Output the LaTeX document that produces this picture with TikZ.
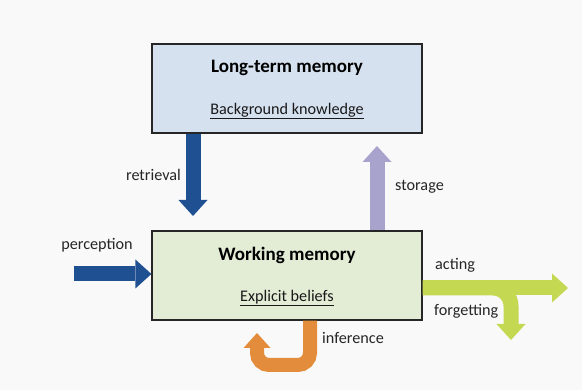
\documentclass[tikz,border=0pt]{standalone}
\usepackage{fontspec}
\setmainfont{Carlito}
\usetikzlibrary{arrows.meta}
\definecolor{bgc}{RGB}{249,249,249}
\definecolor{ltmfill}{RGB}{214,225,239}
\definecolor{wmfill}{RGB}{227,237,214}
\definecolor{dblue}{RGB}{31,80,145}
\definecolor{lav}{RGB}{168,163,204}
\definecolor{ygreen}{RGB}{197,216,82}
\definecolor{orng}{RGB}{226,140,60}
\tikzset{
  membox/.style={draw=black!85, line width=1.2pt, minimum width=270pt, minimum height=89pt, inner sep=0pt},
  boxtitle/.style={font=\fontsize{19}{21}\selectfont\bfseries, text=black, inner sep=0pt},
  boxsub/.style={font=\fontsize{16.2}{19}\selectfont, text=black!90, inner sep=0pt},
  lbl/.style={font=\fontsize{16.2}{19}\selectfont, text=black!85, inner sep=0pt},
  fatarrow/.style={line width=15pt, -{Triangle[width=29pt,length=16pt,line width=0pt]}}
}
\begin{document}
\begin{tikzpicture}[x=1pt,y=-1pt]
\path[fill=bgc,use as bounding box] (0,0) rectangle (582,390);

% boxes
\node[membox, fill=ltmfill] (ltm) at (287,88.5) {};
\node[membox, fill=wmfill] (wm) at (287,275.5) {};
\node[boxtitle] (ltmt) at (287,68) {Long-term memory};
\node[boxsub] (ltms) at (287,111) {\underline{Background knowledge}};
\node[boxtitle] (wmt) at (287,255) {Working memory};
\node[boxsub] (wms) at (287,298) {\underline{Explicit beliefs}};

% coordinates
\coordinate (rtip) at (193,216);
\coordinate (stip) at (377,146);
\coordinate (pstart) at (74,274);
\coordinate (atip) at (568,288);
\coordinate (fbend) at (511,288);
\coordinate (ftip) at (511,340);
\coordinate (ia) at (310,365);
\coordinate (ib) at (257,365);
\coordinate (itip) at (257,333);

% retrieval
\draw[fatarrow, dblue] (ltm.south -| rtip) -- (rtip);
% storage
\draw[fatarrow, lav] (wm.north -| stip) -- (stip);
% perception
\draw[fatarrow, dblue] (pstart) -- (wm.west |- pstart);
% acting
\draw[fatarrow, ygreen] (wm.east |- atip) -- (atip);
% forgetting
\draw[fatarrow, ygreen, rounded corners=18pt] (wm.east |- atip) -- (fbend) -- (ftip);
% inference
\draw[line width=14pt, orng, rounded corners=12pt, -{Triangle[width=27pt,length=15pt,line width=0pt]}]
  (wm.south -| ia) -- (ia) -- (ib) -- (itip);

% labels
\node[lbl, anchor=east] (lr) at (181,175) {retrieval};
\node[lbl, anchor=west] (ls) at (395,187) {storage};
\node[lbl] (lp) at (97,245) {perception};
\node[lbl, anchor=west] (la) at (435,265) {acting};
\node[lbl, anchor=west] (lf) at (434,311) {forgetting};
\node[lbl, anchor=west] (li) at (322,338) {inference};
\end{tikzpicture}
\end{document}
